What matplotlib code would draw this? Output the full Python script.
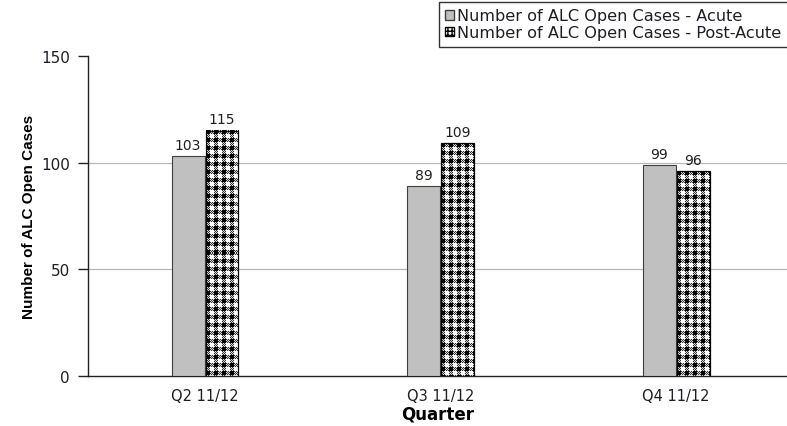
import numpy as np
import matplotlib
matplotlib.use("Agg")
import matplotlib.pyplot as plt
from matplotlib.patches import Patch

quarters = ["Q2 11/12", "Q3 11/12", "Q4 11/12"]
acute = [103, 89, 99]
post_acute = [115, 109, 96]
series_names = ["Number of ALC Open Cases - Acute",
                "Number of ALC Open Cases - Post-Acute"]

plt.rcParams['font.family'] = ['DejaVu Sans']
TXT = "#1e1e28"


def checker_texture(w_px: int, h_px: int) -> np.ndarray:
    """
    Build a gingham-like fill: black where stripes cross, white where
    neither does, dithered grey elsewhere.
    """
    r, c = np.indices((h_px, w_px))
    vert = (c % 8) < 4
    horz = (r % 8) < 4
    img = np.ones((h_px, w_px, 3))
    one = vert ^ horz
    img[one] = 0.85
    img[one & ((r + c) % 2 == 0)] = 0.2
    img[vert & horz] = 0.0
    return img


fig = plt.figure(figsize=(7.87, 4.27), dpi=100)
ax = fig.add_axes([88 / 787, 50 / 427, 699 / 787, 320 / 427])

x = np.arange(len(quarters))
w = 0.14
b1 = ax.bar(x - w / 2 - 0.002, acute, w, color="#c0c0c0",
            edgecolor="#404040", linewidth=0.8, zorder=3)
b2 = ax.bar(x + w / 2 + 0.002, post_acute, w, facecolor="none",
            edgecolor="black", linewidth=0.9, zorder=4)

ax.set_xlim(-0.497, 2.471)
ax.set_ylim(0, 150)

# Checker fill painted inside each post-acute bar
fig.canvas.draw()
for bar in b2:
    x0, y0 = bar.get_x(), bar.get_y()
    bw, bh = bar.get_width(), bar.get_height()
    p0 = ax.transData.transform((x0, y0))
    p1 = ax.transData.transform((x0 + bw, y0 + bh))
    wpx = max(int(round(p1[0] - p0[0])), 1)
    hpx = max(int(round(p1[1] - p0[1])), 1)
    ax.imshow(checker_texture(wpx, hpx), extent=(x0, x0 + bw, y0, y0 + bh),
              aspect="auto", interpolation="nearest", zorder=3.5)

ax.set_xlim(-0.497, 2.471)
ax.set_ylim(0, 150)

for bars, vals in ((b1, acute), (b2, post_acute)):
    for bar, v in zip(bars, vals):
        ax.text(bar.get_x() + bar.get_width() / 2, v + 2.0, str(v),
                ha="center", va="bottom", fontsize=10, color=TXT)

ax.set_yticks([0, 50, 100, 150])
ax.set_xticks(x)
ax.set_xticklabels(quarters)
ax.tick_params(axis="y", direction="out", length=7, width=1, colors="#222222",
               labelcolor=TXT, labelsize=11, pad=6)
ax.tick_params(axis="x", length=0, labelcolor=TXT, labelsize=10.5, pad=9)
for y in (50, 100):
    ax.axhline(y, color="#b8b8b8", linewidth=0.9, zorder=1)

ax.spines["top"].set_visible(False)
ax.spines["right"].set_visible(False)
ax.spines["left"].set_linewidth(1.0)
ax.spines["bottom"].set_linewidth(1.0)
ax.spines["left"].set_color("#222222")
ax.spines["bottom"].set_color("#222222")

ax.set_ylabel("Number of ALC Open Cases", fontsize=11, fontweight="bold",
              family=["Liberation Sans Narrow", "Liberation Sans"], labelpad=4)
ax.set_xlabel("Quarter", fontsize=12, fontweight="bold", labelpad=1)

handles = [Patch(facecolor="#c0c0c0", edgecolor="#404040"),
           Patch(facecolor="white", edgecolor="black", hatch="++++")]
leg = fig.legend(handles, series_names, loc="upper right",
                 bbox_to_anchor=(1.0 + 1 / 787, 1 - 3 / 427), fontsize=11.6,
                 frameon=True, fancybox=False, handlelength=0.55,
                 handleheight=0.55, handletextpad=0.2, borderpad=0.4,
                 labelspacing=0.1, borderaxespad=0)
for t in leg.get_texts():
    t.set_color(TXT)
leg.get_frame().set_edgecolor("black")
leg.get_frame().set_linewidth(1.0)

fig.savefig("out.png", dpi=100)
